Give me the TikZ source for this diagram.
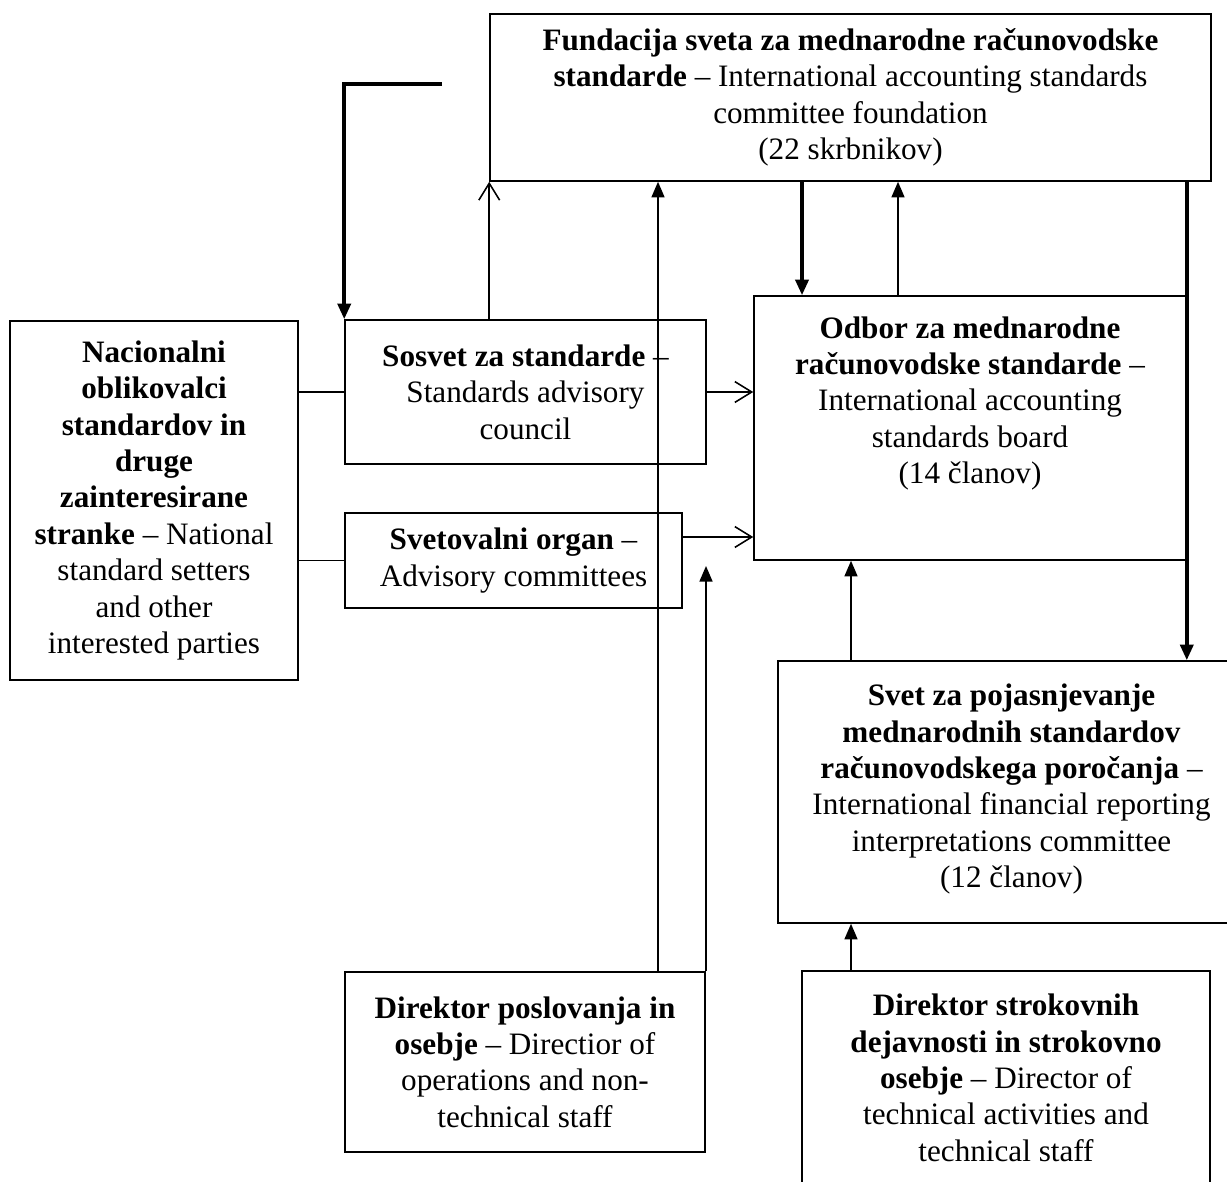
\documentclass[tikz,border=0pt]{standalone}
\usepackage{fontspec}
\setmainfont{Liberation Serif}
\usetikzlibrary{arrows.meta,positioning}

\begin{document}
\begin{tikzpicture}[x=0.385pt, y=-0.385pt,
  every node/.style={font=\fontsize{12pt}{14pt}\selectfont, align=center, inner sep=0pt},
  box/.style={draw, line width=0.6pt},
  boxsize/.style 2 args={minimum width=#1*0.385pt, minimum height=#2*0.385pt},
  conn/.style={line width=0.6pt},
  heavy/.style={line width=1.4pt},
  fillhead/.style={-{Triangle[length=6pt,width=5pt]}},
  openhead/.style={-{Straight Barb[length=6.5pt,width=8pt]}}]
\clip (0,0) rectangle (1227,1182);

\node[box, boxsize={721}{167}] (fund) at (850.5,97.5) {\textbf{Fundacija sveta za mednarodne računovodske}\\
  \textbf{standarde} – International accounting standards\\ committee foundation\\ (22 skrbnikov)};
\node[box, boxsize={432}{264}] (odbor) at (970,428) {};
\node[below=8pt of odbor.north] (odbortxt) {\textbf{Odbor za mednarodne}\\ \textbf{računovodske standarde} –\\
  International accounting\\ standards board\\ (14 članov)};
\node[box, boxsize={361}{144}] (sosvet) at (525.5,392) {\textbf{Sosvet za standarde} –\\ Standards advisory\\ council};
\node[box, boxsize={337}{95}] (svetoval) at (513.5,560.5) {\textbf{Svetovalni organ} –\\ Advisory committees};
\node[box, boxsize={288}{359}] (nac) at (154,500.5) {\textbf{Nacionalni}\\ \textbf{oblikovalci}\\ \textbf{standardov in}\\
  \textbf{druge}\\ \textbf{zainteresirane}\\ \textbf{stranke} – National\\ standard setters\\ and other\\ interested parties};
\node[box, boxsize={467}{262}] (svet) at (1011.5,792) {};
\node[below=9pt of svet.north] (svettxt) {\textbf{Svet za pojasnjevanje}\\ \textbf{mednarodnih standardov}\\
  \textbf{računovodskega poročanja} –\\ International financial reporting\\ interpretations committee\\ (12 članov)};
\node[box, boxsize={360}{180}] (posl) at (525,1062) {\textbf{Direktor poslovanja in}\\ \textbf{osebje} – Directior of\\
  operations and non-\\ technical staff};
\node[box, boxsize={408}{229}] (strok) at (1006,1085.5) {};
\node[below=9pt of strok.north] (stroktxt) {\textbf{Direktor strokovnih}\\ \textbf{dejavnosti in strokovno}\\
  \textbf{osebje} – Director of\\ technical activities and\\ technical staff};

\coordinate (bend) at (442,84);
\coordinate (tipa) at (706,566);
\draw[heavy, fillhead] (bend) -| (sosvet.north west);
\draw[conn, openhead] (fund.south west |- sosvet.north) -- (fund.south west);
\draw[conn, fillhead] (658,0 |- posl.north) -- (658,0 |- fund.south);
\draw[conn, fillhead] (tipa |- posl.north) -- (tipa);
\draw[heavy, fillhead] (802,0 |- fund.south) -- (802,0 |- odbor.north);
\draw[conn, fillhead] (898,0 |- odbor.north) -- (898,0 |- fund.south);
\draw[heavy, fillhead] (odbor.north east |- fund.south) -- (odbor.north east |- svet.north);
\draw[conn, openhead] (sosvet.east) -- (sosvet.east -| odbor.west);
\draw[conn, openhead] (svetoval.east |- 0,537) -- (odbor.west |- 0,537);
\draw[conn] (nac.east |- sosvet.west) -- (sosvet.west);
\draw[conn] (nac.east |- svetoval.west) -- (svetoval.west);
\draw[conn, fillhead] (851,0 |- svet.north) -- (851,0 |- odbor.south);
\draw[conn, fillhead] (851,0 |- strok.north) -- (851,0 |- svet.south);
\end{tikzpicture}
\end{document}
